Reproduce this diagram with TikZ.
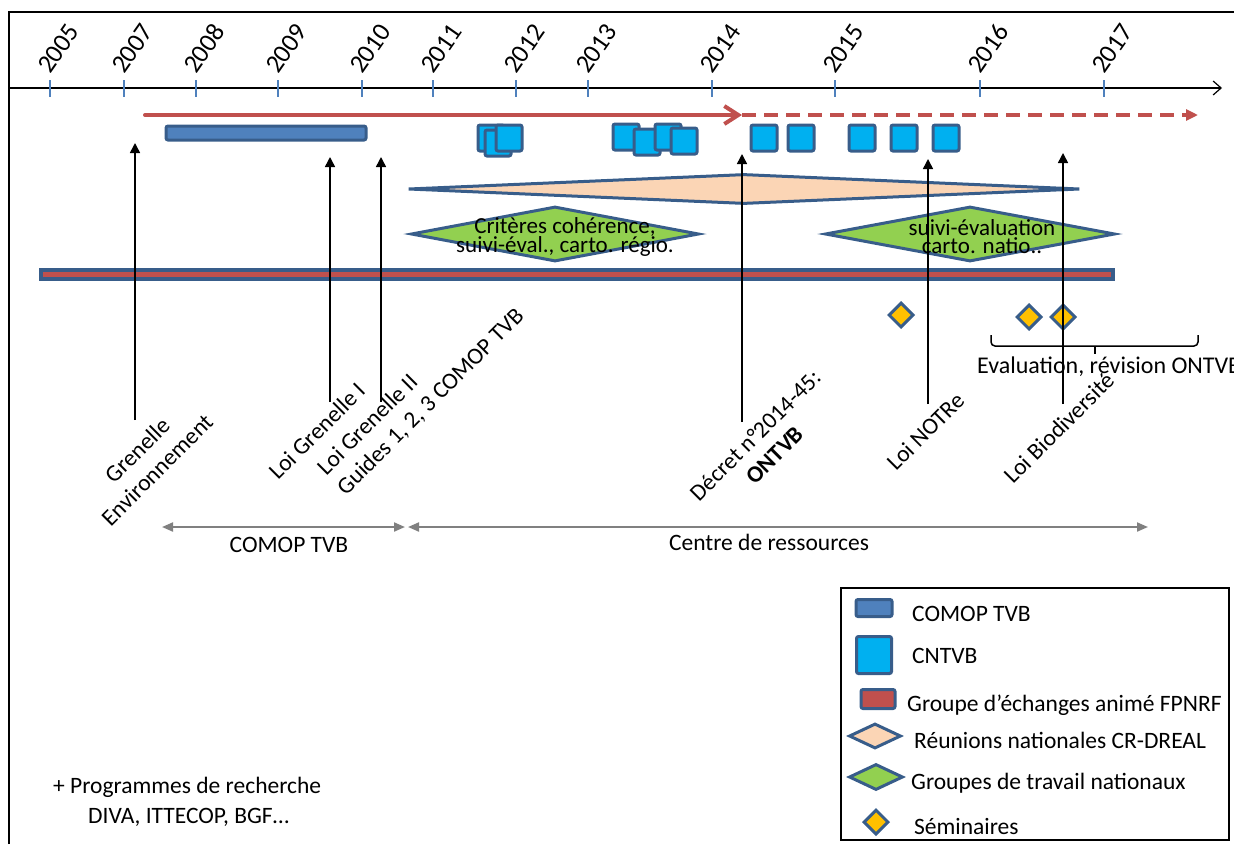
\documentclass[tikz,border=0pt]{standalone}
\usepackage{fontspec}
\setmainfont{Carlito}
\usetikzlibrary{shapes.geometric, arrows.meta}
\definecolor{bordblue}{HTML}{385D8A}
\definecolor{tickblue}{HTML}{4F81BD}
\definecolor{comopblue}{HTML}{4F81BD}
\definecolor{cntvbcyan}{HTML}{00B0F0}
\definecolor{fpred}{HTML}{C0504D}
\definecolor{reunpeach}{HTML}{FBD5B5}
\definecolor{gtgreen}{HTML}{92D050}
\definecolor{semyellow}{HTML}{FFC000}
\definecolor{pergray}{HTML}{808080}
\tikzstyle{yrtick}=[rectangle, fill=tickblue, minimum width=1.5pt, minimum height=17pt, inner sep=0]
\tikzstyle{yr}=[rotate=55, anchor=base west, inner sep=0, font=\fontsize{26}{30}\selectfont]
\tikzstyle{comop}=[rectangle, draw=bordblue, fill=comopblue, line width=3pt, rounded corners=2pt, inner sep=0]
\tikzstyle{cntvb}=[rectangle, draw=bordblue, fill=cntvbcyan, line width=3pt, rounded corners=2pt, minimum width=26pt, minimum height=26pt, inner sep=0]
\tikzstyle{fpnrf}=[rectangle, draw=bordblue, fill=fpred, line width=4pt, inner sep=0]
\tikzstyle{reun}=[diamond, draw=bordblue, fill=reunpeach, line width=3pt, inner sep=0]
\tikzstyle{gt}=[diamond, draw=bordblue, fill=gtgreen, line width=3pt, inner sep=0]
\tikzstyle{sem}=[diamond, draw=bordblue, fill=semyellow, line width=3pt, inner sep=0, minimum width=25pt, minimum height=25pt]
\tikzstyle{gttxt}=[align=center, inner sep=0, font=\fontsize{23}{18}\selectfont]
\tikzstyle{evt}=[line width=1.5pt, -{Triangle[length=10pt, width=10pt]}]
\tikzstyle{evtlbl}=[rotate=45, inner sep=0]
\tikzstyle{period}=[draw=pergray, line width=2pt, {Triangle[length=11pt, width=9pt]}-{Triangle[length=11pt, width=9pt]}]
\tikzstyle{lgd}=[anchor=base west, inner sep=0]

\begin{document}
\begin{tikzpicture}[x=1pt, y=-1pt, font=\fontsize{23.5}{28}\selectfont]
\useasboundingbox (0,0) rectangle (1234,844);
%\draw[help lines,step=50] (0,0) grid (1234,844);
% frame and time axis
\coordinate (fr-a) at (9,844);
\coordinate (fr-b) at (9,12);
\coordinate (fr-c) at (1234,12);
\draw[line width=2pt] (fr-a)--(fr-b)--(fr-c);
\coordinate (ax0) at (9,88);
\coordinate (ax1) at (1222,88);
\draw[line width=1.2pt, -{Straight Barb[length=8pt, width=14pt]}] (ax0)--(ax1);
\node at (50,88)[yrtick](t05){};
\node at (124,88)[yrtick](t07){};
\node at (196,88)[yrtick](t08){};
\node at (278,88)[yrtick](t09){};
\node at (362,88)[yrtick](t10){};
\node at (433,88)[yrtick](t11){};
\node at (516,88)[yrtick](t12){};
\node at (588,88)[yrtick](t13){};
\node at (712,88)[yrtick](t14){};
\node at (835,88)[yrtick](t15){};
\node at (980,88)[yrtick](t16){};
\node at (1104,88)[yrtick](t17){};
\node at (50,75)[yr](y05){2005};
\node at (124,75)[yr](y07){2007};
\node at (196,75)[yr](y08){2008};
\node at (278,75)[yr](y09){2009};
\node at (362,75)[yr](y10){2010};
\node at (433,75)[yr](y11){2011};
\node at (516,75)[yr](y12){2012};
\node at (588,75)[yr](y13){2013};
\node at (712,75)[yr](y14){2014};
\node at (835,75)[yr](y15){2015};
\node at (980,75)[yr](y16){2016};
\node at (1104,75)[yr](y17){2017};
% FPNRF line, then dashed
\coordinate (fp0) at (145,115);
\coordinate (fp1) at (742,115);
\coordinate (fp2) at (1198,115);
\draw[fpred, line width=4pt, line cap=round, -{Straight Barb[length=14pt, width=18pt, line width=4pt]}] (fp0)--(fp1);
\draw[fpred, line width=4pt, dash pattern=on 14pt off 8pt, -{Triangle[length=12pt, width=11pt]}] (fp1)--(fp2);
% COMOP and CNTVB
\node at (266,133)[comop, minimum width=200pt, minimum height=14pt](comop){};
\node at (491,138)[cntvb](c1){};
\node at (498,143)[cntvb](c2){};
\node at (509,138)[cntvb](c3){};
\node at (626,137)[cntvb](c4){};
\node at (647,142)[cntvb](c5){};
\node at (668,137)[cntvb](c6){};
\node at (684,141)[cntvb](c7){};
\node at (764,138)[cntvb](c8){};
\node at (801,138)[cntvb](c9){};
\node at (862,138)[cntvb](c10){};
\node at (904,138)[cntvb](c11){};
\node at (946,138)[cntvb](c12){};
% reunions and groupes de travail
\node at (744,189)[reun, minimum width=672pt, minimum height=30pt](reun){};
\node at (555,234)[gt, minimum width=288pt, minimum height=55pt](gt1){};
\node at (565,237)[gttxt](gt1t){Critères cohérence,\\suivi-éval., carto. régio.};
\node at (970,234)[gt, minimum width=290pt, minimum height=55pt](gt2){};
\node at (982,237)[gttxt](gt2t){suivi-évaluation\\carto. natio..};
\node at (577,274)[fpnrf, minimum width=1072pt, minimum height=9pt](fpnrf){};
% seminaires
\node at (901,315)[sem](s1){};
\node at (1029,317)[sem](s2){};
\node at (1063,317)[sem](s3){};
\draw[line width=1.5pt, rounded corners=4pt] (991,335)--(991,346)--(1198,346)--(1198,335);
\draw[line width=1.5pt] (1095,346)--(1095,354);
\node at (977,373)[lgd, font=\fontsize{24}{28}\selectfont](evalt){Evaluation, révision ONTVB};
% events
\coordinate (gre-b) at (135,420);
\coordinate (gre-t) at (135,143);
\coordinate (lgi-b) at (330,402);
\coordinate (lgi-t) at (330,157);
\coordinate (lgii-b) at (381,402);
\coordinate (lgii-t) at (381,157);
\coordinate (dec-b) at (742,422);
\coordinate (dec-t) at (742,154);
\coordinate (notre-b) at (928,404);
\coordinate (notre-t) at (928,159);
\coordinate (bio-b) at (1063,404);
\coordinate (bio-t) at (1063,153);
\draw[evt] (gre-b)--(gre-t);
\draw[evt] (lgi-b)--(lgi-t);
\draw[evt] (lgii-b)--(lgii-t);
\draw[evt] (dec-b)--(dec-t);
\draw[evt] (notre-b)--(notre-t);
\draw[evt] (bio-b)--(bio-t);
\node at (147,460)[evtlbl, align=center](gre){Grenelle\\Environnement};
\node at (278,481)[evtlbl, anchor=base west](lgi){Loi Grenelle I};
\node at (421,392)[evtlbl, align=left](lgii){Loi Grenelle II\\Guides 1, 2, 3 COMOP TVB};
\node at (765,445)[evtlbl, align=center](dec){Décret n°2014-45:\\\textbf{ONTVB}};
\node at (896,472)[evtlbl, anchor=base west](notre){Loi NOTRe};
\node at (1013,485)[evtlbl, anchor=base west](bio){Loi Biodiversité};
% periods
\coordinate (cm-l) at (162,527);
\coordinate (cm-r) at (405,527);
\coordinate (cr-l) at (408,527);
\coordinate (cr-r) at (1148,527);
\draw[period] (cm-l)--(cm-r);
\draw[period] (cr-l)--(cr-r);
\node at (289,552)[anchor=base, inner sep=0](cmt){COMOP TVB};
\node at (769,550)[anchor=base, inner sep=0](crt){Centre de ressources};
% legend
\node at (1035,714)[rectangle, draw, line width=1.5pt, minimum width=388pt, minimum height=252pt](lgbox){};
\node at (874,608)[comop, minimum width=36pt, minimum height=17pt](lg1){};
\node at (874,655)[cntvb, minimum width=35pt, minimum height=37pt](lg2){};
\node at (878,699)[fpnrf, line width=3pt, rounded corners=2pt, minimum width=34pt, minimum height=19pt](lg3){};
\node at (875,736)[reun, minimum width=52pt, minimum height=25pt](lg4){};
\node at (876,777)[gt, minimum width=54pt, minimum height=26pt](lg5){};
\node at (876,822)[sem](lg6){};
\node at (912,621)[lgd](lg1t){COMOP TVB};
\node at (912,663)[lgd](lg2t){CNTVB};
\node at (907,711)[lgd](lg3t){Groupe d’échanges animé FPNRF};
\node at (914,748)[lgd](lg4t){Réunions nationales CR-DREAL};
\node at (911,789)[lgd](lg5t){Groupes de travail nationaux};
\node at (914,834)[lgd](lg6t){Séminaires};
% recherche
\node at (53,793)[lgd](rech){+ Programmes de recherche};
\node at (88,823)[lgd](rech2){DIVA, ITTECOP, BGF…};
\end{tikzpicture}
\end{document}
